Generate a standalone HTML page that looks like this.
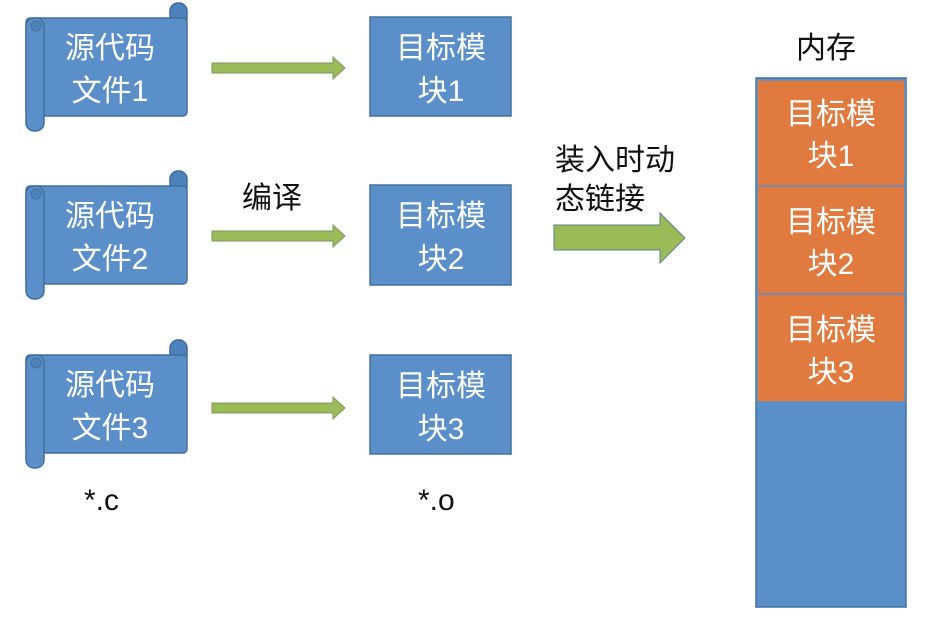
<!DOCTYPE html>
<html><head><meta charset="utf-8"><style>
body{margin:0;background:#fff;width:945px;height:623px;overflow:hidden;font-family:"Liberation Sans","Noto Sans CJK SC",sans-serif}
</style></head><body>
<svg width="945" height="623" xmlns="http://www.w3.org/2000/svg" font-family="Liberation Sans, Noto Sans CJK SC, sans-serif">
<defs>
<g id="scroll">
<rect x="170" y="-15" width="17" height="24" rx="8" fill="#4f81bd" stroke="#3f6a9a" stroke-width="1.5"/>
<rect x="26" y="0" width="161" height="98" rx="4" fill="#5b8fc9" stroke="#41719c" stroke-width="1.5"/>
<rect x="26" y="0" width="18" height="113" rx="8" fill="#5b8fc9" stroke="#41719c" stroke-width="1.5"/>
<circle cx="36" cy="8" r="5" fill="#4f81bd" stroke="#41719c"/>
</g>
<g id="sarrow">
<path d="M212 -5 H333 V-11 L345 0 L333 11 V5 H212 Z" fill="#9bbb59" stroke="#7a9a5a" stroke-width="1"/>
</g>
</defs>
<g fill="#fff" font-size="30" text-anchor="middle">
<use href="#scroll" transform="translate(0,18)"/>
<text x="110" y="58">源代码</text><text x="110" y="101">文件1</text>
<use href="#scroll" transform="translate(0,186)"/>
<text x="110" y="226">源代码</text><text x="110" y="269">文件2</text>
<use href="#scroll" transform="translate(0,355)"/>
<text x="110" y="395">源代码</text><text x="110" y="438">文件3</text>

<rect x="370" y="17" width="141" height="99" fill="#5b8fc9" stroke="#41719c" stroke-width="1.5"/>
<text x="441" y="58">目标模</text><text x="441" y="101">块1</text>
<rect x="370" y="185" width="141" height="100" fill="#5b8fc9" stroke="#41719c" stroke-width="1.5"/>
<text x="441" y="226">目标模</text><text x="441" y="269">块2</text>
<rect x="370" y="355" width="141" height="99" fill="#5b8fc9" stroke="#41719c" stroke-width="1.5"/>
<text x="441" y="396">目标模</text><text x="441" y="439">块3</text>

<rect x="756" y="78" width="150" height="529" fill="#5b8fc9" stroke="#41719c" stroke-width="1.5"/>
<rect x="757" y="80" width="148" height="106" fill="#e07a3f" stroke="#5b8fc9" stroke-width="1.5"/>
<rect x="757" y="186" width="148" height="108" fill="#e07a3f" stroke="#5b8fc9" stroke-width="1.5"/>
<rect x="757" y="294" width="148" height="108" fill="#e07a3f" stroke="#5b8fc9" stroke-width="1.5"/>
<text x="831" y="124">目标模</text><text x="831" y="166">块1</text>
<text x="831" y="232">目标模</text><text x="831" y="274">块2</text>
<text x="831" y="340">目标模</text><text x="831" y="382">块3</text>
</g>
<use href="#sarrow" transform="translate(0,68)"/>
<use href="#sarrow" transform="translate(0,236)"/>
<use href="#sarrow" transform="translate(0,408)"/>
<path d="M554 225 H660 V213 L685 238 L660 263 V250 H554 Z" fill="#9bbb59" stroke="#5f7f8f" stroke-width="1"/>
<g fill="#111" font-size="30">
<text x="242" y="208">编译</text>
<text x="555" y="170">装入时动</text>
<text x="555" y="209">态链接</text>
<text x="796" y="58">内存</text>
<text x="84" y="510">*.c</text>
<text x="418" y="510">*.o</text>
</g>
</svg>
</body></html>
